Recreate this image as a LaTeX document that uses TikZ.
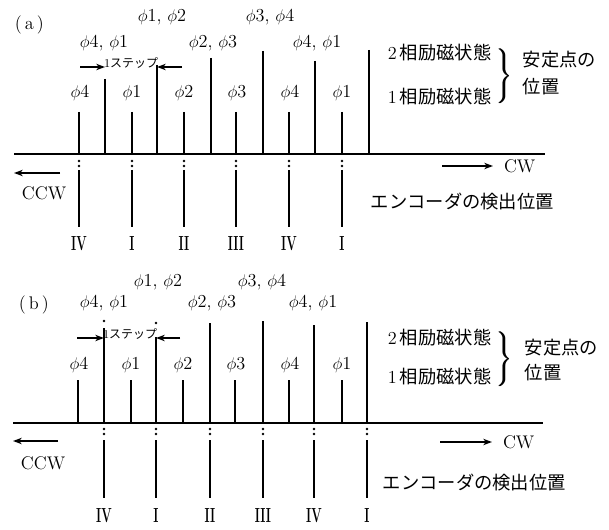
\documentclass[tikz,border=0pt]{standalone}
\usepackage{amsmath,amssymb}
\usepackage{fontspec}
\newfontfamily\jp{Noto Sans CJK JP}
\usepackage{tikz}
\usetikzlibrary{arrows.meta}

\begin{document}
\begin{tikzpicture}[x=0.025cm,y=-0.025cm,>={Stealth[length=2.2mm,width=1.6mm]},
  font=\fontsize{13}{15}\selectfont,line cap=butt,
  phase/.style={line width=1.6pt},
  enc/.style={line width=1.6pt},
  shaft/.style={line width=1.4pt},
  thinarrow/.style={->,line width=1pt},
  jtext/.style={anchor=west,font=\fontsize{13}{15}\selectfont\jp},
  steptext/.style={font=\fontsize{8.5}{9}\selectfont,inner sep=0pt},
  bracetext/.style={inner sep=0pt,font=\fontsize{13}{15}\selectfont},
  roman/.style={font=\fontsize{14.5}{16}\selectfont\bfseries,xscale=0.6,inner sep=0pt}]
\useasboundingbox (0,0) rectangle (609,530);
% ---------- (a) ----------
\node[anchor=west] (tagA) at (10,25) {(\,a\,)};
\draw[shaft] (14,154) -- (545,154);
\draw[phase] (79,112) -- (79,154);
\draw[phase] (132,112) -- (132,154);
\draw[phase] (184,112) -- (184,154);
\draw[phase] (236,112) -- (236,154);
\draw[phase] (289,112) -- (289,154);
\draw[phase] (342,112) -- (342,154);
\draw[phase] (105,79) -- (105,154);
\draw[phase] (157,65) -- (157,154);
\draw[phase] (211,58) -- (211,154);
\draw[phase] (263,51) -- (263,154);
\draw[phase] (315,61) -- (315,154);
\draw[phase] (369,50) -- (369,154);
\node (oneA1) at (80,93) {$\phi$4};
\node (oneA2) at (132,93) {$\phi$1};
\node (oneA3) at (184,93) {$\phi$2};
\node (oneA4) at (237,93) {$\phi$3};
\node (oneA5) at (290,93) {$\phi$4};
\node (oneA6) at (342,93) {$\phi$1};
\node (twoA1) at (104,43) {$\phi$4, $\phi$1};
\node (twoA2) at (162,17) {$\phi$1, $\phi$2};
\node (twoA3) at (213,43) {$\phi$2, $\phi$3};
\node (twoA4) at (270,17) {$\phi$3, $\phi$4};
\node (twoA5) at (317,43) {$\phi$4, $\phi$1};
\coordinate (stepAl) at (80,67);
\coordinate (stepAr) at (182,67);
\draw[thinarrow] (stepAl) -- (105,67);
\draw[thinarrow] (stepAr) -- (157,67);
\node[steptext] (stepA) at (131,63) {1{\jp ステップ}};
\node[jtext] (twoexA) at (383,53) {{\rmfamily 2}\,相励磁状態};
\node[jtext] (oneexA) at (383,97) {{\rmfamily 1}\,相励磁状態};
\node[bracetext] (braceA) at (503,76) {$\left.\vcenter{\hrule height 1.45cm width 0pt}\right\}$};
\node[bracetext] (braceAb) at (503.6,76) {$\left.\vcenter{\hrule height 1.45cm width 0pt}\right\}$};
\node[jtext] (stabA1) at (518,60) {安定点の};
\node[jtext] (stabA2) at (518,87) {位置};
\draw[thinarrow] (442,166) -- (493,166) node[right=4pt] (cwA) {CW};
\draw[thinarrow] (60,173) -- (14,173);
\node[anchor=west] (ccwA) at (17,193) {CCW};
\node[jtext] (encA) at (366,202) {エンコーダの検出位置};
\fill (79,161) circle[radius=0.9pt] (79,166) circle[radius=0.9pt];
\fill (132,161) circle[radius=0.9pt] (132,166) circle[radius=0.9pt];
\fill (184,161) circle[radius=0.9pt] (184,166) circle[radius=0.9pt];
\fill (236,161) circle[radius=0.9pt] (236,166) circle[radius=0.9pt];
\fill (289,161) circle[radius=0.9pt] (289,166) circle[radius=0.9pt];
\fill (342,161) circle[radius=0.9pt] (342,166) circle[radius=0.9pt];
\draw[enc] (79,170) -- (79,227);
\draw[enc] (132,170) -- (132,227);
\draw[enc] (184,170) -- (184,227);
\draw[enc] (236,170) -- (236,227);
\draw[enc] (289,170) -- (289,227);
\draw[enc] (342,170) -- (342,227);
\node[roman] (romA1) at (79,244) {IV};
\node[roman] (romA2) at (132,244) {I};
\node[roman] (romA3) at (184,244) {II};
\node[roman] (romA4) at (236,244) {III};
\node[roman] (romA5) at (289,244) {IV};
\node[roman] (romA6) at (342,244) {I};
% ---------- (b) ----------
\node[anchor=west] (tagB) at (14,305) {(\,b\,)};
\draw[shaft] (13,423) -- (543,423);
\draw[phase] (78,380) -- (78,423);
\draw[phase] (131,380) -- (131,423);
\draw[phase] (183,380) -- (183,423);
\draw[phase] (235,380) -- (235,423);
\draw[phase] (289,380) -- (289,423);
\draw[phase] (342,380) -- (342,423);
\fill (104,321) circle[radius=0.9pt] (156,323) circle[radius=0.9pt];
\draw[phase] (104,328) -- (104,423);
\draw[phase] (156,337) -- (156,423);
\draw[phase] (210,323) -- (210,423);
\draw[phase] (263,321) -- (263,423);
\draw[phase] (314,325) -- (314,423);
\draw[phase] (367,322) -- (367,423);
\node (oneB1) at (79,365) {$\phi$4};
\node (oneB2) at (131,365) {$\phi$1};
\node (oneB3) at (183,365) {$\phi$2};
\node (oneB4) at (236,365) {$\phi$3};
\node (oneB5) at (290,365) {$\phi$4};
\node (oneB6) at (342,365) {$\phi$1};
\node (twoB1) at (104,303) {$\phi$4, $\phi$1};
\node (twoB2) at (158,282) {$\phi$1, $\phi$2};
\node (twoB3) at (212,303) {$\phi$2, $\phi$3};
\node (twoB4) at (262,282) {$\phi$3, $\phi$4};
\node (twoB5) at (313,303) {$\phi$4, $\phi$1};
\coordinate (stepBl) at (77,338);
\coordinate (stepBr) at (180,338);
\draw[thinarrow] (stepBl) -- (104,338);
\draw[thinarrow] (stepBr) -- (156,338);
\node[steptext] (stepB) at (130,334) {1{\jp ステップ}};
\node[jtext] (twoexB) at (383,338) {{\rmfamily 2}\,相励磁状態};
\node[jtext] (oneexB) at (383,377) {{\rmfamily 1}\,相励磁状態};
\node[bracetext] (braceB) at (503,359) {$\left.\vcenter{\hrule height 1.45cm width 0pt}\right\}$};
\node[bracetext] (braceBb) at (503.6,359) {$\left.\vcenter{\hrule height 1.45cm width 0pt}\right\}$};
\node[jtext] (stabB1) at (520,348) {安定点の};
\node[jtext] (stabB2) at (520,373) {位置};
\draw[thinarrow] (440,442) -- (492,442) node[right=4pt] (cwB) {CW};
\draw[thinarrow] (58,441) -- (13,441);
\node[anchor=west] (ccwB) at (16,463) {CCW};
\node[jtext] (encB) at (378,483) {エンコーダの検出位置};
\fill (104,429) circle[radius=0.9pt] (104,434) circle[radius=0.9pt];
\fill (156,429) circle[radius=0.9pt] (156,434) circle[radius=0.9pt];
\fill (210,429) circle[radius=0.9pt] (210,434) circle[radius=0.9pt];
\fill (263,429) circle[radius=0.9pt] (263,434) circle[radius=0.9pt];
\fill (314,429) circle[radius=0.9pt] (314,434) circle[radius=0.9pt];
\fill (367,429) circle[radius=0.9pt] (367,434) circle[radius=0.9pt];
\draw[enc] (104,440) -- (104,498);
\draw[enc] (156,440) -- (156,498);
\draw[enc] (210,440) -- (210,498);
\draw[enc] (263,440) -- (263,498);
\draw[enc] (314,440) -- (314,498);
\draw[enc] (367,440) -- (367,498);
\node[roman] (romB1) at (104,516) {IV};
\node[roman] (romB2) at (156,516) {I};
\node[roman] (romB3) at (210,516) {II};
\node[roman] (romB4) at (263,516) {III};
\node[roman] (romB5) at (314,516) {IV};
\node[roman] (romB6) at (367,516) {I};
\end{tikzpicture}
\end{document}
